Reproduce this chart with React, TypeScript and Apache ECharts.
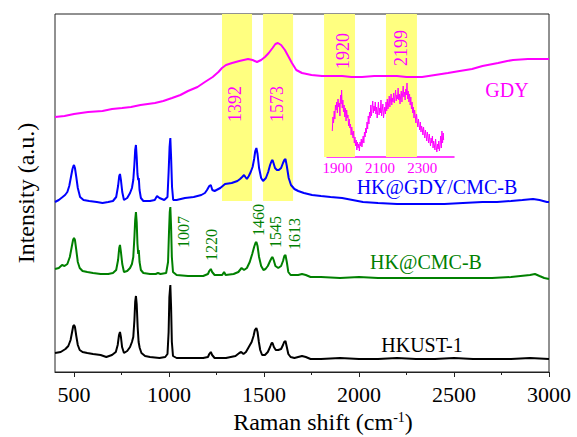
import React, { useEffect, useRef } from "react";
import * as echarts from "echarts";

// Raman shift (cm-1) vs stacked intensity (arbitrary units, offset per sample)
const hkust1: number[][] = [
  [400, 19], [430, 20], [455, 23], [470, 26], [482, 32], [490, 40], [496, 46], [500, 47], [505, 45], [512, 36],
  [520, 27], [530, 22], [545, 20], [570, 19], [600, 18], [640, 17], [670, 15], [700, 17], [720, 20], [730, 27],
  [737, 37], [742, 40], [747, 35], [753, 25], [763, 19], [780, 21], [795, 25], [805, 30], [812, 35], [818, 52],
  [822, 70], [826, 76], [830, 68], [835, 45], [840, 30], [846, 24], [855, 19], [874, 16], [900, 15], [950, 14],
  [980, 15], [992, 18], [998, 40], [1002, 75], [1007, 87], [1011, 65], [1015, 30], [1021, 16], [1040, 14],
  [1100, 14], [1180, 14], [1205, 15], [1212, 18], [1220, 20], [1227, 17], [1240, 14], [1300, 14], [1350, 16],
  [1370, 19], [1380, 20], [1392, 18], [1405, 20], [1420, 25], [1435, 30], [1445, 36], [1452, 42], [1460, 44],
  [1466, 40], [1473, 30], [1480, 22], [1490, 17], [1505, 17], [1520, 20], [1532, 25], [1540, 29], [1545, 29],
  [1552, 25], [1562, 22], [1575, 22], [1590, 23], [1600, 27], [1606, 30], [1613, 31], [1620, 25], [1628, 18],
  [1640, 15], [1660, 14], [1680, 15], [1700, 16], [1720, 15], [1745, 13], [1800, 13], [1900, 14], [2000, 13],
  [2100, 13], [2200, 14], [2300, 13], [2400, 13], [2500, 14], [2600, 13], [2700, 13], [2800, 13], [2900, 14],
  [3000, 13],
];

const hkCmcB: number[][] = [
  [400, 103], [420, 104], [437, 107], [450, 106], [465, 108], [478, 115], [488, 125], [495, 132], [500, 134],
  [505, 132], [512, 122], [520, 110], [530, 104], [545, 101], [570, 100], [600, 99], [640, 98], [680, 98],
  [705, 99], [722, 102], [732, 112], [738, 124], [742, 127], [747, 120], [754, 108], [763, 100], [780, 101],
  [795, 104], [805, 108], [812, 115], [818, 135], [822, 152], [826, 160], [830, 150], [834, 128], [838, 118],
  [841, 122], [845, 110], [852, 102], [865, 99], [900, 98], [930, 98], [942, 99], [955, 98], [985, 99],
  [995, 110], [1000, 140], [1004, 160], [1007, 165], [1011, 145], [1015, 115], [1021, 100], [1040, 97],
  [1100, 96], [1180, 96], [1205, 98], [1212, 101], [1220, 103], [1227, 100], [1240, 97], [1280, 97],
  [1290, 100], [1298, 97], [1340, 98], [1365, 100], [1382, 104], [1395, 102], [1410, 104], [1425, 110],
  [1438, 118], [1448, 125], [1455, 129], [1460, 130], [1466, 126], [1474, 115], [1485, 106], [1497, 102],
  [1508, 103], [1520, 106], [1532, 111], [1540, 114], [1545, 115], [1551, 112], [1560, 106], [1575, 104],
  [1590, 106], [1600, 111], [1607, 116], [1613, 117], [1620, 110], [1628, 100], [1640, 97], [1660, 97],
  [1680, 97], [1700, 98], [1720, 97], [1745, 95], [1800, 95], [1900, 94], [2000, 95], [2100, 94], [2200, 94],
  [2300, 94], [2400, 94], [2500, 94], [2600, 94], [2700, 94], [2800, 95], [2850, 96], [2900, 97], [2926, 98],
  [2950, 96], [2975, 94], [3000, 93],
];

const hkGdyCmcB: number[][] = [
  [400, 170], [420, 172], [440, 175], [453, 177], [465, 180], [475, 186], [485, 196], [492, 203], [497, 206],
  [500, 207], [505, 204], [512, 195], [520, 184], [532, 175], [550, 172], [580, 171], [620, 170], [650, 169],
  [680, 170], [705, 171], [722, 175], [732, 186], [738, 196], [742, 198], [747, 192], [754, 180], [763, 172],
  [780, 174], [795, 179], [805, 184], [812, 192], [818, 208], [822, 222], [826, 227], [830, 215], [834, 198],
  [838, 192], [841, 194], [845, 182], [852, 174], [865, 171], [900, 171], [925, 172], [937, 176], [950, 174],
  [975, 172], [992, 175], [998, 200], [1003, 225], [1007, 234], [1011, 215], [1016, 185], [1022, 172],
  [1040, 172], [1084, 174], [1130, 175], [1170, 177], [1189, 179], [1200, 182], [1212, 186], [1220, 187],
  [1228, 182], [1240, 181], [1270, 184], [1295, 188], [1330, 189], [1360, 191], [1374, 193], [1385, 195],
  [1395, 197], [1402, 195], [1410, 193], [1420, 196], [1430, 200], [1440, 205], [1448, 213], [1454, 221],
  [1460, 224], [1466, 218], [1474, 204], [1485, 194], [1495, 191], [1510, 194], [1522, 200], [1532, 207],
  [1540, 211], [1545, 212], [1550, 209], [1558, 204], [1568, 202], [1578, 202], [1590, 204], [1600, 209],
  [1607, 212], [1613, 213], [1620, 206], [1630, 194], [1642, 187], [1660, 183], [1680, 181], [1710, 179],
  [1753, 177], [1800, 176], [1850, 175], [1911, 174], [2021, 170], [2100, 169], [2200, 168], [2300, 168],
  [2374, 168], [2450, 168], [2547, 169], [2650, 170], [2726, 170], [2800, 171], [2860, 172], [2916, 173],
  [2950, 172], [2989, 170], [3000, 170],
];

const gdy: number[][] = [
  [400, 255], [450, 256], [500, 258], [574, 260], [650, 261], [700, 263], [753, 264], [800, 265], [850, 267],
  [926, 269], [970, 271], [1016, 274], [1060, 277], [1100, 281], [1150, 285], [1189, 290], [1230, 295],
  [1260, 300], [1279, 304], [1300, 307], [1332, 309], [1370, 311], [1416, 313], [1440, 312], [1463, 310],
  [1485, 312], [1505, 315], [1525, 319], [1545, 324], [1560, 328], [1573, 329], [1590, 327], [1610, 322],
  [1630, 315], [1647, 309], [1670, 302], [1700, 299], [1750, 297], [1805, 296], [1860, 296], [1911, 296],
  [1960, 295], [2016, 295], [2080, 296], [2153, 296], [2200, 296], [2250, 295], [2332, 295], [2400, 297],
  [2468, 299], [2530, 301], [2595, 303], [2650, 306], [2732, 309], [2780, 311], [2811, 312], [2889, 313],
  [2940, 313], [3000, 313],
];

// Enlarged GDY region (alkyne stretching), plotted in its own small frame
const gdyInset: number[][] = [
  [1875, 26], [1878, 40], [1881, 34], [1884, 46], [1887, 38], [1890, 52], [1893, 47], [1896, 55], [1899, 44],
  [1902, 58], [1905, 50], [1908, 54], [1911, 41], [1914, 62], [1917, 53], [1919, 67], [1922, 49], [1925, 57],
  [1928, 45], [1931, 52], [1934, 40], [1937, 49], [1940, 36], [1943, 47], [1946, 39], [1949, 42], [1952, 31],
  [1955, 38], [1958, 29], [1961, 33], [1964, 22], [1967, 30], [1970, 24], [1973, 19], [1976, 26], [1979, 14],
  [1982, 20], [1985, 11], [1988, 17], [1991, 7], [1994, 15], [1997, 9], [2000, 13], [2003, 6], [2006, 15],
  [2009, 11], [2012, 18], [2015, 10], [2018, 16], [2021, 21], [2024, 14], [2027, 25], [2030, 20], [2033, 29],
  [2036, 24], [2039, 35], [2042, 28], [2045, 41], [2048, 33], [2051, 45], [2054, 39], [2057, 52], [2060, 41],
  [2063, 49], [2066, 56], [2069, 44], [2072, 51], [2075, 46], [2078, 55], [2081, 43], [2084, 50], [2087, 39],
  [2090, 47], [2093, 55], [2096, 42], [2099, 49], [2102, 44], [2105, 57], [2108, 41], [2111, 47], [2114, 53],
  [2117, 39], [2120, 45], [2123, 50], [2126, 43], [2129, 55], [2132, 46], [2135, 58], [2138, 48], [2141, 53],
  [2144, 61], [2147, 50], [2150, 57], [2153, 63], [2156, 52], [2159, 59], [2162, 55], [2165, 64], [2168, 54],
  [2171, 60], [2174, 67], [2177, 56], [2180, 62], [2183, 58], [2186, 69], [2189, 57], [2192, 63], [2195, 53],
  [2198, 61], [2201, 66], [2204, 55], [2207, 63], [2210, 71], [2213, 60], [2216, 65], [2219, 57], [2222, 68],
  [2225, 62], [2228, 74], [2231, 58], [2234, 66], [2237, 55], [2240, 63], [2243, 52], [2246, 60], [2249, 48],
  [2252, 55], [2255, 44], [2258, 50], [2261, 39], [2264, 47], [2267, 41], [2270, 34], [2273, 43], [2276, 36],
  [2279, 30], [2282, 38], [2285, 32], [2288, 27], [2291, 35], [2294, 25], [2297, 31], [2300, 28], [2303, 22],
  [2306, 30], [2309, 24], [2312, 19], [2315, 27], [2318, 22], [2321, 16], [2324, 25], [2327, 20], [2330, 14],
  [2333, 23], [2336, 17], [2339, 11], [2342, 19], [2345, 14], [2348, 21], [2351, 9], [2354, 16], [2357, 12],
  [2360, 7], [2363, 18], [2366, 10], [2369, 5], [2372, 13], [2375, 8], [2378, 16], [2381, 6], [2384, 12],
  [2387, 21], [2390, 9], [2393, 26], [2396, 14], [2399, 24], [2401, 17],
];

// Highlighted bands: [from, to, lowest intensity level the band reaches]
const bands: number[][] = [
  [1279, 1437, 171],
  [1495, 1653, 171],
  [1816, 1979, 215],
  [2142, 2305, 215],
];

const xMajorTicks = [500, 1000, 1500, 2000, 2500, 3000];
const xMinorTicks = [750, 1250, 1750, 2250, 2750];
const insetTicks = [1900, 2100, 2300];

const SERIF = "'Liberation Serif', 'Times New Roman', serif";
const MAGENTA = "#ff00ff";
const BLUE = "#0000ff";
const GREEN = "#008000";
const BLACK = "#000000";

const rotText = (text: string, x: number, y: number, color: string, size: number) => ({
  type: "text",
  x,
  y,
  rotation: Math.PI / 2,
  style: {
    text,
    fill: color,
    font: `${size}px ${SERIF}`,
    align: "center",
    verticalAlign: "middle",
  },
  z: 10,
});

const flatText = (text: string, x: number, y: number, color: string, size: number) => ({
  type: "text",
  x,
  y,
  style: {
    text,
    fill: color,
    font: `${size}px ${SERIF}`,
    align: "center",
    verticalAlign: "middle",
  },
  z: 10,
});

const plain = (v: number) => String(v);

export default function App() {
  const ref = useRef<HTMLDivElement>(null);

  useEffect(() => {
    if (!ref.current) return;
    const chart = echarts.init(ref.current, null, { renderer: "svg" });

    const lineSeries = (name: string, data: number[][], color: string, width = 2) => ({
      name,
      type: "line",
      xAxisIndex: 0,
      yAxisIndex: 0,
      data,
      showSymbol: false,
      symbol: "none",
      lineStyle: { color, width },
      z: 5,
      silent: true,
    });

    chart.setOption({
      animation: false,
      backgroundColor: "#ffffff",
      grid: [
        {
          left: 55,
          top: 14,
          width: 494,
          height: 358,
          show: true,
          borderColor: "#222",
          borderWidth: 1,
          backgroundColor: "transparent",
        },
        { left: 327, top: 14, width: 127, height: 143 },
      ],
      xAxis: [
        {
          type: "value",
          gridIndex: 0,
          min: 400,
          max: 3000,
          axisLine: { show: true, lineStyle: { color: "#222", width: 1 } },
          axisTick: { show: true, customValues: xMajorTicks, length: 5, lineStyle: { color: "#222" } },
          axisLabel: {
            customValues: xMajorTicks,
            formatter: plain,
            fontSize: 22,
            fontFamily: SERIF,
            color: BLACK,
            margin: 11,
          },
          splitLine: { show: false },
        },
        {
          type: "value",
          gridIndex: 0,
          position: "bottom",
          min: 400,
          max: 3000,
          axisLine: { show: false },
          axisTick: { show: true, customValues: xMinorTicks, length: 3, lineStyle: { color: "#222" } },
          axisLabel: { show: false },
          splitLine: { show: false },
        },
        {
          type: "value",
          gridIndex: 1,
          min: 1850,
          max: 2450,
          axisLine: { show: true, onZero: false, lineStyle: { color: MAGENTA, width: 1.5 } },
          axisTick: { show: false },
          axisLabel: {
            customValues: insetTicks,
            formatter: plain,
            fontSize: 15,
            fontFamily: SERIF,
            color: MAGENTA,
            margin: 3,
          },
          splitLine: { show: false },
        },
      ],
      yAxis: [
        { type: "value", gridIndex: 0, min: 0, max: 358, show: false },
        { type: "value", gridIndex: 1, min: 0, max: 143, show: false },
      ],
      series: [
        {
          name: "bands",
          type: "line",
          xAxisIndex: 0,
          yAxisIndex: 0,
          data: [],
          z: 1,
          silent: true,
          markArea: {
            silent: true,
            itemStyle: { color: "#ffff80", opacity: 1 },
            data: bands.map((b) => [
              { xAxis: b[0], yAxis: b[2] },
              { xAxis: b[1], yAxis: 358 },
            ]),
          },
        },
        lineSeries("HKUST-1", hkust1, BLACK),
        lineSeries("HK@CMC-B", hkCmcB, GREEN),
        lineSeries("HK@GDY/CMC-B", hkGdyCmcB, BLUE),
        lineSeries("GDY", gdy, MAGENTA),
        {
          name: "GDY inset",
          type: "line",
          xAxisIndex: 2,
          yAxisIndex: 1,
          data: gdyInset,
          showSymbol: false,
          symbol: "none",
          lineStyle: { color: MAGENTA, width: 1 },
          z: 5,
          silent: true,
        },
      ],
      graphic: [
        // axis titles
        {
          type: "text",
          x: 26,
          y: 193,
          rotation: Math.PI / 2,
          style: {
            text: "Intensity (a.u.)",
            fill: BLACK,
            font: `24px ${SERIF}`,
            align: "center",
            verticalAlign: "middle",
          },
        },
        {
          type: "text",
          x: 323,
          y: 422,
          style: {
            text: "Raman shift (cm{sup|-1})",
            fill: BLACK,
            font: `24px ${SERIF}`,
            align: "center",
            verticalAlign: "middle",
            rich: {
              sup: {
                fontSize: 14,
                fontFamily: SERIF,
                fill: BLACK,
                verticalAlign: "top",
                padding: [0, 0, 10, 0],
              },
            },
          },
        },
        // sample names
        flatText("GDY", 507, 90, MAGENTA, 20),
        flatText("HK@GDY/CMC-B", 437, 187, BLUE, 20),
        flatText("HK@CMC-B", 426, 262, GREEN, 20),
        flatText("HKUST-1", 422, 345, BLACK, 20),
        // band positions
        rotText("1392", 235, 104, MAGENTA, 18),
        rotText("1573", 277, 104, MAGENTA, 18),
        rotText("1920", 343, 51, MAGENTA, 18),
        rotText("2199", 401, 48, MAGENTA, 18),
        // HK@CMC-B peak positions
        rotText("1007", 183, 232, GREEN, 16),
        rotText("1220", 211, 245, GREEN, 16),
        rotText("1460", 258, 220, GREEN, 16),
        rotText("1545", 275, 232, GREEN, 16),
        rotText("1613", 294, 234, GREEN, 16),
      ],
    });

    return () => chart.dispose();
  }, []);

  return (
    <div
      ref={ref}
      style={{ position: "fixed", left: 0, top: 0, width: 577, height: 437, background: "#fff" }}
    />
  );
}
